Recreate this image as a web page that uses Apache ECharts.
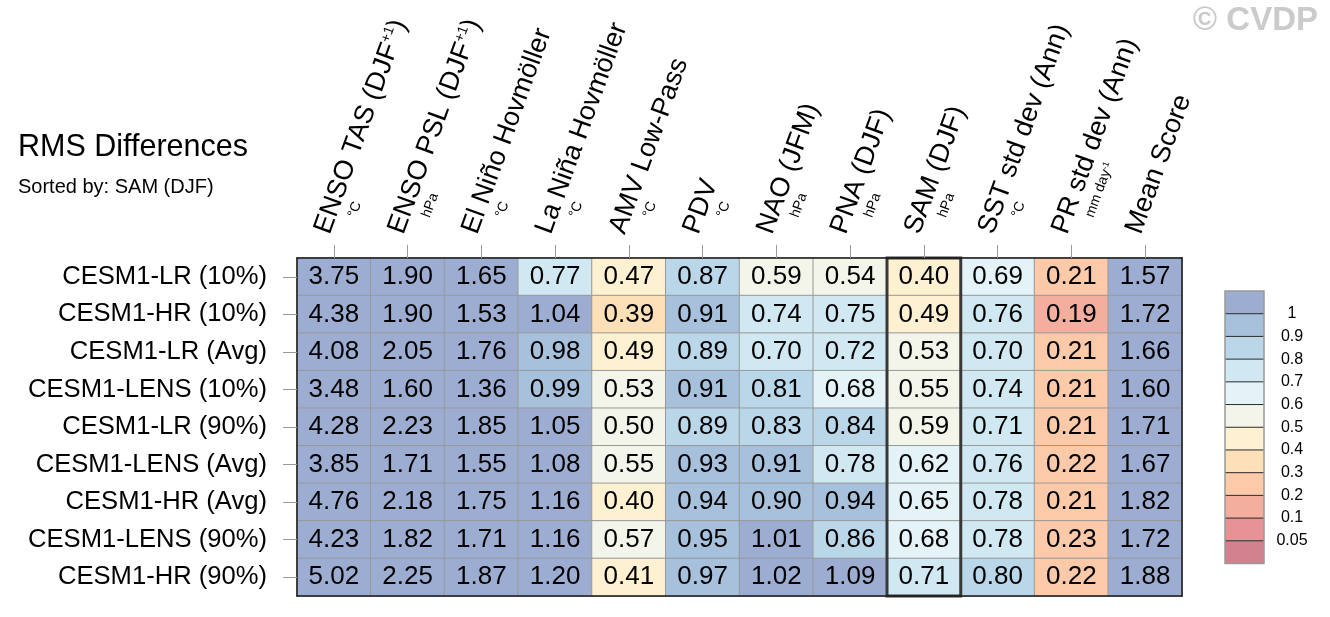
<!DOCTYPE html>
<html><head><meta charset="utf-8">
<script src="https://cdn.jsdelivr.net/npm/echarts@6/dist/echarts.min.js"></script>
<style>html,body{margin:0;padding:0;background:#fff}#c{width:1330px;height:617px}</style>
</head><body><div id="c"></div>
<script>
// ---- data ----
const models = ['CESM1-LR (10%)','CESM1-HR (10%)','CESM1-LR (Avg)','CESM1-LENS (10%)','CESM1-LR (90%)','CESM1-LENS (Avg)','CESM1-HR (Avg)','CESM1-LENS (90%)','CESM1-HR (90%)'];
const metrics = ['ENSO TAS (DJF+1)','ENSO PSL (DJF+1)','El Niño Hovmöller','La Niña Hovmöller','AMV Low-Pass','PDV','NAO (JFM)','PNA (DJF)','SAM (DJF)','SST std dev (Ann)','PR std dev (Ann)','Mean Score'];
const metricLabels = ['ENSO TAS (DJF^+1^)','ENSO PSL (DJF^+1^)','El Niño Hovmöller','La Niña Hovmöller','AMV Low-Pass','PDV','NAO (JFM)','PNA (DJF)','SAM (DJF)','SST std dev (Ann)','PR std dev (Ann)','Mean Score'];
const metricUnits = ['°C','hPa','°C','°C','°C','°C','hPa','hPa','hPa','°C','mm day^-1^',''];
const sortedBy = 'SAM (DJF)';

const lr10   = [3.75,1.90,1.65,0.77,0.47,0.87,0.59,0.54,0.40,0.69,0.21,1.57];
const hr10   = [4.38,1.90,1.53,1.04,0.39,0.91,0.74,0.75,0.49,0.76,0.19,1.72];
const lrAvg  = [4.08,2.05,1.76,0.98,0.49,0.89,0.70,0.72,0.53,0.70,0.21,1.66];
const lens10 = [3.48,1.60,1.36,0.99,0.53,0.91,0.81,0.68,0.55,0.74,0.21,1.60];
const lr90   = [4.28,2.23,1.85,1.05,0.50,0.89,0.83,0.84,0.59,0.71,0.21,1.71];
const lensAvg= [3.85,1.71,1.55,1.08,0.55,0.93,0.91,0.78,0.62,0.76,0.22,1.67];
const hrAvg  = [4.76,2.18,1.75,1.16,0.40,0.94,0.90,0.94,0.65,0.78,0.21,1.82];
const lens90 = [4.23,1.82,1.71,1.16,0.57,0.95,1.01,0.86,0.68,0.78,0.23,1.72];
const hr90   = [5.02,2.25,1.87,1.20,0.41,0.97,1.02,1.09,0.71,0.80,0.22,1.88];
const rowValues = [lr10,hr10,lrAvg,lens10,lr90,lensAvg,hrAvg,lens90,hr90];

const legendTicks = ['1','0.9','0.8','0.7','0.6','0.5','0.4','0.3','0.2','0.1','0.05'];

// ---- style ----
const binColors = ['#9dadd2','#a7c1dc','#bad7ea','#d0e8f1','#e4f3f8','#f3f4ea','#fdf1d1','#fddfb8','#fcc9a9','#f4ae9e','#e89295','#d3808f'];
const FONT = 'Liberation Sans';

const edges = legendTicks.map(parseFloat);
const pieces = binColors.map((c,i)=>{
  if(i===0) return {gte: edges[0], color:c};
  if(i===binColors.length-1) return {lt: edges[i-1], color:c};
  return {gte: edges[i], lt: edges[i-1], color:c};
});

const heatData = [];
rowValues.forEach((row,r)=>row.forEach((v,c)=>heatData.push([c,r,v])));
const samIdx = metrics.indexOf(sortedBy);

function richMain(s){ return '{m|' + s.replace(/\^([^\^]*)\^/g,'}{s|$1}{m|') + '}'; }
function richUnit(s){ return s ? '{u|' + s.replace(/\^([^\^]*)\^/g,'}{us|$1}{u|') + '}' : ''; }

const chart = echarts.init(document.getElementById('c'), null, {renderer:'canvas'});
const option = {
  animation:false,
  backgroundColor:'#fff',
  textStyle:{fontFamily:FONT},
  title:{
    text:'RMS Differences', subtext:'Sorted by: '+sortedBy,
    left:18, top:132, itemGap:14, padding:0,
    textStyle:{fontSize:30.5, fontWeight:'normal', color:'#000', fontFamily:FONT},
    subtextStyle:{fontSize:20, color:'#000', fontFamily:FONT}
  },
  graphic:[{type:'text', right:12, top:4, style:{text:'© CVDP', fontSize:33, fontWeight:'bold', fill:'#cbcbcb', fontFamily:FONT}}],
  grid:[
    {left:297, right:148, top:258, bottom:21},
    {left:1225, top:291, width:39, height:272.5}
  ],
  xAxis:[
    {type:'category', gridIndex:0, position:'top', data:metrics, z:10,
     axisLine:{show:true, lineStyle:{color:'#1a1a1a', width:1.5}},
     axisTick:{show:true, alignWithLabel:true, length:13, lineStyle:{color:'#999'}},
     splitLine:{show:false},
     axisLabel:{interval:0, rotate:-70, align:'left', verticalAlign:'bottom', margin:17, padding:[0,0,0,4],
       formatter:(v,i)=>richMain(metricLabels[i]),
       rich:{m:{fontSize:27, color:'#000', fontFamily:FONT}, s:{fontSize:14, color:'#000', fontFamily:FONT, verticalAlign:'top'}}}},
    {type:'category', gridIndex:0, position:'top', data:metrics,
     axisLine:{show:false}, axisTick:{show:false}, splitLine:{show:false},
     axisLabel:{interval:0, rotate:-70, align:'left', verticalAlign:'middle', margin:20, padding:[20,0,0,26],
       formatter:(v,i)=>richUnit(metricUnits[i]),
       rich:{u:{fontSize:14, color:'#000', fontFamily:FONT}, us:{fontSize:9, color:'#000', fontFamily:FONT, verticalAlign:'top'}}}},
    {type:'category', gridIndex:0, position:'bottom', data:metrics, z:10,
     axisLine:{show:true, lineStyle:{color:'#1a1a1a', width:1.5}}, axisTick:{show:false}, axisLabel:{show:false}, splitLine:{show:false}},
    {type:'value', gridIndex:1, min:0, max:1, show:false}
  ],
  yAxis:[
    {type:'category', gridIndex:0, data:models, inverse:true, z:10,
     axisLine:{show:true, lineStyle:{color:'#1a1a1a', width:1.5}},
     axisTick:{show:true, alignWithLabel:true, length:14, lineStyle:{color:'#999'}},
     splitLine:{show:false},
     axisLabel:{margin:30, fontSize:25.6, color:'#000', fontFamily:FONT}},
    {type:'category', gridIndex:0, data:models, inverse:true, position:'right', z:10,
     axisLine:{show:true, lineStyle:{color:'#1a1a1a', width:1.5}}, axisTick:{show:false}, axisLabel:{show:false}, splitLine:{show:false}},
    {type:'value', gridIndex:1, min:0, max:12, interval:1, inverse:true, position:'right',
     axisLine:{show:false}, axisTick:{show:false}, splitLine:{show:false},
     axisLabel:{margin:28, align:'center', fontSize:16, color:'#000', fontFamily:FONT,
       formatter:v=>legendTicks[v-1]||''}}
  ],
  visualMap:{type:'piecewise', show:false, seriesIndex:0, pieces:pieces},
  series:[
    {type:'heatmap', xAxisIndex:0, yAxisIndex:0, data:heatData,
     itemStyle:{borderColor:'#999', borderWidth:1},
     label:{show:true, fontSize:26, color:'#000', fontFamily:FONT, formatter:p=>p.value[2].toFixed(2)},
     emphasis:{disabled:true}},
    {type:'custom', xAxisIndex:0, yAxisIndex:0, z:5, data:[[samIdx,0]], silent:true,
     renderItem:(params,api)=>{
       const p = api.coord([api.value(0), 0]);
       const s = api.size([1,1]);
       return {type:'rect', shape:{x:p[0]-s[0]/2, y:p[1]-s[1]/2, width:s[0], height:s[1]*models.length},
         style:{fill:'none', stroke:'#383838', lineWidth:3}};
     }},
    {type:'custom', xAxisIndex:3, yAxisIndex:2, data:binColors.map((c,i)=>[0,i]), silent:true,
     renderItem:(params,api)=>{
       const i = api.value(1);
       const p0 = api.coord([0,i]), p1 = api.coord([1,i+1]);
       const children = [{type:'rect', shape:{x:p0[0], y:p0[1], width:p1[0]-p0[0], height:p1[1]-p0[1]}, style:{fill:binColors[i]}}];
       if(i>0) children.push({type:'line', shape:{x1:p0[0], y1:p0[1], x2:p1[0], y2:p0[1]}, style:{stroke:'#2a2a2a', lineWidth:1}});
       return {type:'group', children};
     }},
    {type:'custom', xAxisIndex:3, yAxisIndex:2, z:5, data:[[0,0]], silent:true,
     renderItem:(params,api)=>{
       const p0 = api.coord([0,0]), p1 = api.coord([1,binColors.length]);
       return {type:'rect', shape:{x:p0[0], y:p0[1], width:p1[0]-p0[0], height:p1[1]-p0[1]}, style:{fill:'none', stroke:'#999', lineWidth:1.5}};
     }}
  ]
};
chart.setOption(option);
</script></body></html>
